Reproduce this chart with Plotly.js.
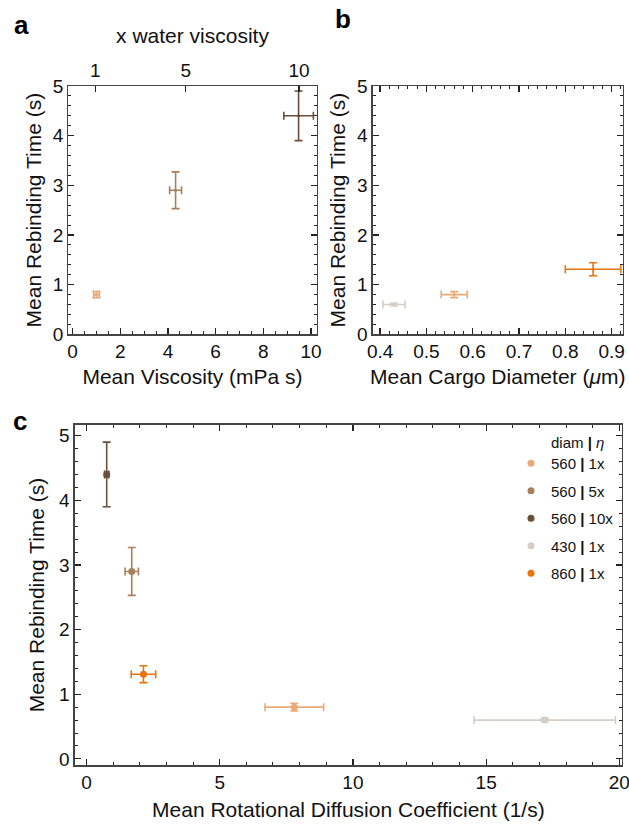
<!DOCTYPE html>
<html>
<head>
<meta charset="utf-8">
<script src="https://cdn.plot.ly/plotly-3.0.1.min.js"></script>
<style>html,body{margin:0;padding:0;background:#fff;}#chart{width:629px;height:829px;}</style>
</head>
<body>
<div id="chart"></div>
<script>
// ---- data ----
const groups        = ['560 <b>|</b> 1x', '560 <b>|</b> 5x', '560 <b>|</b> 10x', '430 <b>|</b> 1x', '860 <b>|</b> 1x'];
const legendTitle   = 'diam <b>|</b> <i>η</i>';
const colors        = ['#EAAA78', '#A97F5A', '#6B4F39', '#D6CDC6', '#E8740E'];
const rebinding     = [0.80, 2.90, 4.40, 0.60, 1.31];
const rebindingErr  = [0.06, 0.37, 0.50, 0.03, 0.13];
// panel a (560 nm beads at 1x, 5x, 10x)
const viscIdx       = [0, 1, 2];
const viscosity     = [1.00, 4.32, 9.48];
const viscosityErr  = [0.12, 0.25, 0.62];
const waterMult     = [1, 5, 10];
const waterVisc     = [0.95, 4.75, 9.5];   // mPa s positions of the top ticks
// panel b (1x viscosity: 430, 560, 860 nm)
const diamIdx       = [3, 0, 4];
const diameter      = [0.43, 0.56, 0.86];
const diameterErr   = [0.024, 0.028, 0.06];
// panel c
const rotDiff       = [7.80, 1.70, 0.76, 17.20, 2.14];
const rotDiffErr    = [1.10, 0.25, 0.08, 2.65, 0.46];

const FONT = 'Liberation Sans, Arial, sans-serif';
const traces = [];

function eb(arr, c, w) { return {type:'data', array:arr, visible:true, color:c, thickness:1.6, width:w}; }

// panel a
viscIdx.forEach((g, i) => {
  traces.push({
    x:[viscosity[i]], y:[rebinding[g]], xaxis:'x', yaxis:'y', mode:'markers', type:'scatter',
    marker:{size:3, color:colors[g]}, showlegend:false,
    error_x: eb([viscosityErr[i]], colors[g], 4), error_y: eb([rebindingErr[g]], colors[g], 4)
  });
});
// dummy trace so the top (water viscosity) axis is drawn
traces.push({x:[], y:[], xaxis:'x2', yaxis:'y', mode:'markers', showlegend:false});

// panel b
diamIdx.forEach((g, i) => {
  traces.push({
    x:[diameter[i]], y:[rebinding[g]], xaxis:'x3', yaxis:'y3', mode:'markers', type:'scatter',
    marker:{size:3, color:colors[g]}, showlegend:false,
    error_x: eb([diameterErr[i]], colors[g], 4), error_y: eb([rebindingErr[g]], colors[g], 4)
  });
});

// panel c
groups.forEach((name, g) => {
  traces.push({
    x:[rotDiff[g]], y:[rebinding[g]], xaxis:'x4', yaxis:'y4', mode:'markers', type:'scatter',
    name:name, legendgroup:'g'+g,
    marker:{size:7, color:colors[g]},
    error_x: eb([rotDiffErr[g]], colors[g], 4), error_y: eb([rebindingErr[g]], colors[g], 4)
  });
});

const lineC = '#444';
const minorBase = {ticks:'inside', ticklen:3, tickwidth:1, tickcolor:'#222', showgrid:false};
function ax(extra) {
  return Object.assign({
    showline:true, linecolor:lineC, linewidth:1.3, ticks:'inside', ticklen:6, tickwidth:1.2, tickcolor:'#222',
    showgrid:false, zeroline:false, fixedrange:true, automargin:false, ticklabeloverflow:'allow',
    tickfont:{family:FONT, size:19, color:'#111'}
  }, extra);
}
const titleFont = {family:FONT, size:21, color:'#111'};

const layout = {
  width:629, height:829, margin:{l:0, r:0, t:0, b:0},
  paper_bgcolor:'#fff', plot_bgcolor:'#fff',
  font:{family:FONT, color:'#111'},
  xaxis: ax({domain:[0.1086, 0.5035], anchor:'y', range:[-0.18, 10.24], dtick:2, tick0:0, mirror:true,
             minor:Object.assign({dtick:0.5}, minorBase),
             title:{text:'Mean Viscosity (mPa s)', font:titleFont, standoff:8}}),
  xaxis2: ax({overlaying:'x', side:'top', anchor:'y', range:[-0.18, 10.24], tickmode:'array',
              tickvals:waterVisc, ticktext:waterMult.map(String),
              title:{text:'x water viscosity', font:titleFont, standoff:10}}),
  yaxis: ax({domain:[0.5967, 0.8963], anchor:'x', range:[0, 5], dtick:1, mirror:'ticks',
             minor:Object.assign({dtick:0.2}, minorBase),
             title:{text:'Mean Rebinding Time (s)', font:titleFont, standoff:5}}),
  xaxis3: ax({domain:[0.5925, 0.9900], anchor:'y3', range:[0.384, 0.924], dtick:0.1, tick0:0, tickformat:'.1f', mirror:'ticks',
              minor:Object.assign({dtick:0.02}, minorBase),
              title:{text:'Mean Cargo Diameter (<i>μ</i>m)', font:titleFont, standoff:8}}),
  yaxis3: ax({domain:[0.5967, 0.8963], anchor:'x3', range:[0, 5], dtick:1, mirror:'ticks',
              minor:Object.assign({dtick:0.2}, minorBase),
              title:{text:'Mean Rebinding Time (s)', font:titleFont, standoff:5}}),
  xaxis4: ax({domain:[0.1188, 0.9889], anchor:'y4', range:[-0.44, 20.1], dtick:5, tick0:0, mirror:'ticks',
              minor:Object.assign({dtick:1}, minorBase),
              title:{text:'Mean Rotational Diffusion Coefficient (1/s)', font:titleFont, standoff:10}}),
  yaxis4: ax({domain:[0.0768, 0.4877], anchor:'x4', range:[-0.1, 5.17], dtick:1, mirror:'ticks',
              minor:Object.assign({dtick:0.2}, minorBase),
              title:{text:'Mean Rebinding Time (s)', font:titleFont, standoff:8}}),
  showlegend:true,
  legend:{x:511/629, xanchor:'left', y:1-447/829, yanchor:'top', bgcolor:'rgba(0,0,0,0)',
          font:{family:FONT, size:15, color:'#111'}, tracegroupgap:5, traceorder:'grouped'},
  annotations:[
    {text:legendTitle, xref:'paper', yref:'paper', x:577/629, y:1-443/829, xanchor:'center', yanchor:'middle', showarrow:false, font:{family:FONT, size:15, color:'#111'}},
    {text:'<b>a</b>', xref:'paper', yref:'paper', x:12/629, y:1-8/829, xanchor:'left', yanchor:'top', showarrow:false, font:{family:FONT, size:26, color:'#000'}},
    {text:'<b>b</b>', xref:'paper', yref:'paper', x:333/629, y:1-2/829, xanchor:'left', yanchor:'top', showarrow:false, font:{family:FONT, size:26, color:'#000'}},
    {text:'<b>c</b>', xref:'paper', yref:'paper', x:11/629, y:1-404/829, xanchor:'left', yanchor:'top', showarrow:false, font:{family:FONT, size:26, color:'#000'}}
  ]
};

Plotly.newPlot('chart', traces, layout, {staticPlot:true, displayModeBar:false});
</script>
</body>
</html>
